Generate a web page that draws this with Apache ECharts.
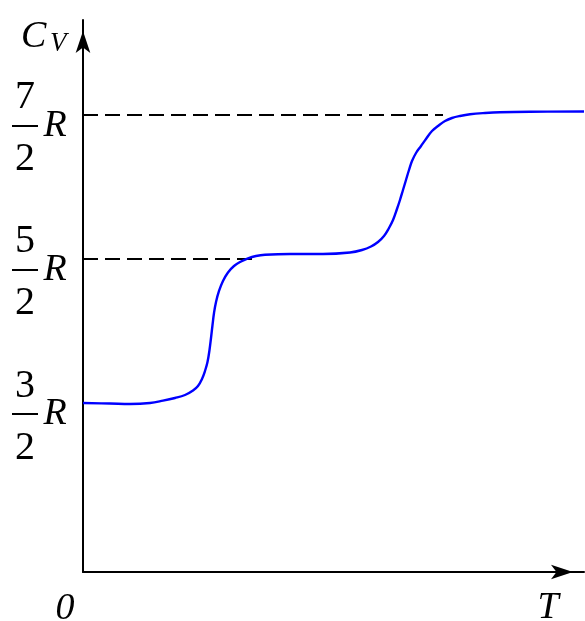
<!DOCTYPE html>
<html><head><meta charset="utf-8">
<script src="https://cdn.jsdelivr.net/npm/echarts@6/dist/echarts.min.js"></script>
<style>html,body{margin:0;padding:0;background:#fff}#c{width:585px;height:621px}</style>
</head><body><div id="c"></div>
<script>
// Temperature (arbitrary units) and heat capacity C_V (in units of R)
const curveT  = [0, 0.539, 0.938, 1.337, 1.597, 1.836, 2.036, 2.196, 2.295, 2.375, 2.435, 2.485, 2.525, 2.555, 2.585, 2.615, 2.655, 2.715, 2.794, 2.894, 3.014, 3.154, 3.293, 3.453, 3.633, 4.132, 4.790, 5.329, 5.569, 5.749, 5.888, 6.008, 6.108, 6.188, 6.267, 6.327, 6.387, 6.447, 6.507, 6.567, 6.647, 6.747, 6.846, 6.966, 7.086, 7.226, 7.365, 7.525, 7.725, 8.024, 8.323, 8.922, 10.0];
const curveCv = [1.5, 1.4965, 1.4931, 1.5, 1.516, 1.5347, 1.5556, 1.5868, 1.6181, 1.6667, 1.7222, 1.7847, 1.8681, 1.9514, 2.0417, 2.125, 2.2014, 2.2778, 2.3472, 2.4063, 2.4514, 2.4826, 2.5049, 2.5208, 2.5292, 2.5347, 2.5347, 2.5451, 2.5625, 2.5868, 2.618, 2.6597, 2.7153, 2.7708, 2.8472, 2.9097, 2.9792, 3.0486, 3.1181, 3.1806, 3.2361, 3.2847, 3.3333, 3.3889, 3.4236, 3.4583, 3.4792, 3.4931, 3.5049, 3.5139, 3.5194, 3.5229, 3.5243];

// Tick labels on the C_V axis: fractions n/2 R
const tickValues = [1.5, 2.5, 3.5];
const tickNumerators = ['3', '5', '7'];
const tickDenominator = '2';

// Dashed guide lines: level and where they stop along T
const guideLevels = [2.5, 3.5];
const guideEnds = [3.373, 7.186];

const serif = '"Liberation Serif", "Times New Roman", serif';
const chart = echarts.init(document.getElementById('c'));

const guideSeries = guideLevels.map((lv, i) => ({
  type: 'line',
  data: [[0, lv], [guideEnds[i], lv]],
  symbol: 'none',
  silent: true,
  z: 2,
  lineStyle: { color: '#000', width: 2, type: [15, 7] }
}));

chart.setOption({
  animation: false,
  backgroundColor: '#fff',
  grid: { left: 83, right: 1, top: 20, bottom: 49, containLabel: false, outerBoundsMode: 'none' },
  xAxis: {
    type: 'value', min: 0, max: 10,
    axisLine: { show: true, lineStyle: { color: '#000', width: 2 }, symbol: ['none', 'arrow'], symbolSize: [11, 22], symbolOffset: [0, -11] },
    axisTick: { show: false },
    splitLine: { show: false },
    axisLabel: {
      customValues: [0],
      formatter: () => '0',
      fontFamily: serif, fontStyle: 'italic', fontSize: 38, color: '#000',
      margin: 18, padding: [0, 36, 0, 0]
    }
  },
  yAxis: {
    type: 'value', min: 0.3264, max: 4.1597,
    axisLine: { show: true, lineStyle: { color: '#000', width: 2 }, symbol: ['none', 'arrow'], symbolSize: [11, 22], symbolOffset: [0, -11] },
    axisTick: { show: false },
    splitLine: { show: false },
    axisLabel: {
      customValues: tickValues,
      margin: 11,
      padding: [34, 0, 0, 0],
      formatter: (v) => {
        const idx = tickValues.indexOf(v);
        const n = idx >= 0 ? tickNumerators[idx] : '';
        return '{n|' + n + '}{g| }\n{b| }{r|R}\n{d|' + tickDenominator + '}{h| }';
      },
      rich: {
        n: { fontFamily: serif, fontSize: 40, width: 26, align: 'center', lineHeight: 32, color: '#000' },
        g: { width: 34, lineHeight: 32, fontSize: 10 },
        b: { width: 26, height: 2, lineHeight: 24, backgroundColor: '#000', fontSize: 2 },
        r: { fontFamily: serif, fontStyle: 'italic', fontSize: 38, width: 34, align: 'left', lineHeight: 24, color: '#000' },
        d: { fontFamily: serif, fontSize: 40, width: 26, align: 'center', lineHeight: 44, color: '#000' },
        h: { width: 34, lineHeight: 44, fontSize: 10 }
      }
    }
  },
  graphic: [
    { type: 'text', style: { text: 'C', x: 21, y: 37, font: 'italic 38px ' + serif, fill: '#000', verticalAlign: 'middle', align: 'left' } },
    { type: 'text', style: { text: 'V', x: 50, y: 44, font: 'italic 27px ' + serif, fill: '#000', verticalAlign: 'middle', align: 'left' } },
    { type: 'text', style: { text: 'T', x: 548, y: 608, font: 'italic 38px ' + serif, fill: '#000', verticalAlign: 'middle', align: 'center' } }
  ],
  series: guideSeries.concat([{
    type: 'line',
    data: curveT.map((t, i) => [t, curveCv[i]]),
    symbol: 'none',
    smooth: 0.4,
    clip: false,
    z: 5,
    lineStyle: { color: '#0000ff', width: 2.4 }
  }])
});
</script>
</body></html>
